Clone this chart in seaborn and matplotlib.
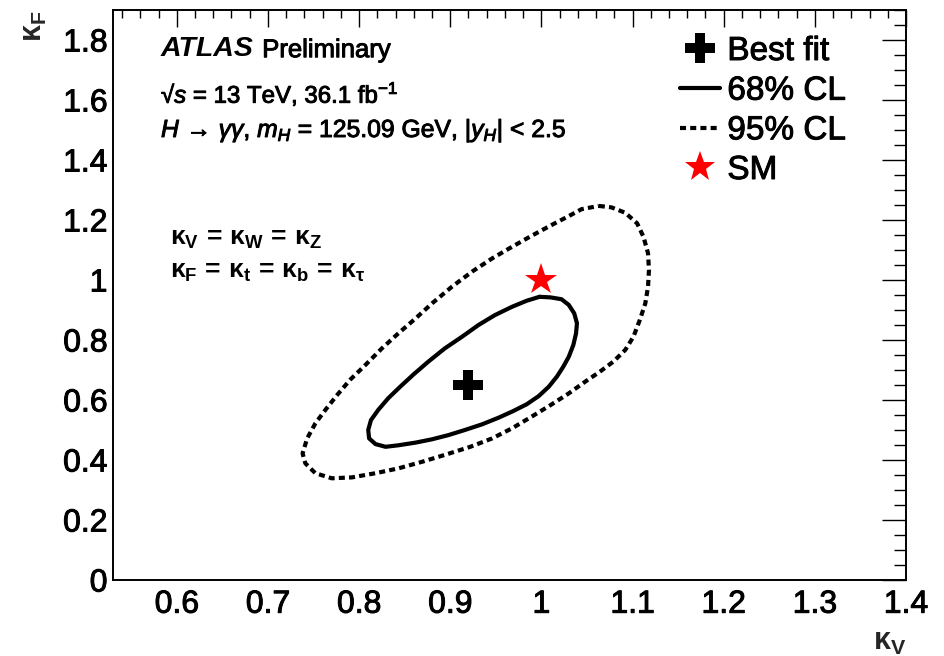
import matplotlib
matplotlib.use("Agg")
import matplotlib.pyplot as plt
import matplotlib.patheffects as pe
from matplotlib.lines import Line2D
from matplotlib.ticker import MultipleLocator
import pandas as pd
import seaborn as sns

# 68% CL contour in the (kappa_V, kappa_F) plane
kv_68 = [0.998, 1.010, 1.022, 1.030, 1.036, 1.039, 1.038, 1.035, 1.030, 1.024,
         1.017, 1.008, 0.997, 0.984, 0.969, 0.953, 0.935, 0.916, 0.898, 0.880,
         0.862, 0.843, 0.829, 0.818, 0.811, 0.810, 0.813, 0.821, 0.832, 0.845,
         0.860, 0.876, 0.894, 0.913, 0.931, 0.949, 0.968, 0.984, 0.998]
kf_68 = [0.944, 0.942, 0.936, 0.917, 0.889, 0.856, 0.822, 0.783, 0.744, 0.711,
         0.678, 0.644, 0.613, 0.586, 0.563, 0.541, 0.519, 0.500, 0.483, 0.469,
         0.458, 0.449, 0.444, 0.453, 0.472, 0.500, 0.533, 0.567, 0.606, 0.644,
         0.686, 0.728, 0.772, 0.811, 0.850, 0.883, 0.911, 0.931, 0.944]

# 95% CL contour
kv_95 = [1.063, 1.077, 1.092, 1.105, 1.112, 1.117, 1.118, 1.117, 1.114, 1.108,
         1.101, 1.092, 1.079, 1.064, 1.048, 1.030, 1.010, 0.989, 0.968, 0.946,
         0.922, 0.894, 0.869, 0.843, 0.818, 0.792, 0.770, 0.752, 0.741, 0.738,
         0.743, 0.752, 0.763, 0.776, 0.790, 0.807, 0.825, 0.843, 0.862, 0.880,
         0.902, 0.924, 0.946, 0.968, 0.989, 1.011, 1.030, 1.044, 1.063]
kf_95 = [1.247, 1.242, 1.224, 1.189, 1.144, 1.089, 1.033, 0.978, 0.922, 0.867,
         0.811, 0.767, 0.728, 0.694, 0.661, 0.622, 0.583, 0.544, 0.506, 0.472,
         0.444, 0.417, 0.394, 0.372, 0.356, 0.342, 0.339, 0.356, 0.389, 0.422,
         0.472, 0.522, 0.567, 0.617, 0.667, 0.717, 0.772, 0.822, 0.872, 0.922,
         0.978, 1.028, 1.072, 1.111, 1.147, 1.183, 1.213, 1.236, 1.247]

best_fit_kv, best_fit_kf = [0.92], [0.65]
sm_kv, sm_kf = [1.0], [1.0]

x_limits = (0.53, 1.4)
y_limits = (0.0, 1.9)
x_ticks = [0.6, 0.7, 0.8, 0.9, 1.0, 1.1, 1.2, 1.3, 1.4]
x_tick_labels = ["0.6", "0.7", "0.8", "0.9", "1", "1.1", "1.2", "1.3", "1.4"]
y_ticks = [0.0, 0.2, 0.4, 0.6, 0.8, 1.0, 1.2, 1.4, 1.6, 1.8]
y_tick_labels = ["0", "0.2", "0.4", "0.6", "0.8", "1", "1.2", "1.4", "1.6", "1.8"]
legend_labels = ["Best fit", "68% CL", "95% CL", "SM"]

sns.set_theme(style="white")
plt.rcParams.update({
    "font.family": ["Liberation Sans", "DejaVu Sans"],
    "mathtext.fontset": "custom",
    "mathtext.rm": "Liberation Sans",
    "mathtext.it": "Liberation Sans:italic",
    "mathtext.bf": "Liberation Sans:bold",
    "mathtext.sf": "Liberation Sans",
    "axes.edgecolor": "black",
    "axes.linewidth": 1.4,
    "text.color": "black",
    "xtick.color": "black",
    "ytick.color": "black",
})

# slightly heavier strokes for the text
heavy = [pe.withStroke(linewidth=0.7, foreground="black")]

fig = plt.figure(figsize=(9.44, 6.56), dpi=100)
ax = fig.add_axes([113 / 944, 1 - 580 / 656, 793 / 944, 570 / 656])

c68 = pd.DataFrame({"kv": kv_68, "kf": kf_68})
c95 = pd.DataFrame({"kv": kv_95, "kf": kf_95})

dotted = (0, (1.45, 1.0))
sns.lineplot(data=c95, x="kv", y="kf", sort=False, estimator=None, ax=ax,
             color="black", lw=3.0, linestyle=dotted, dash_capstyle="butt",
             dash_joinstyle="round")
sns.lineplot(data=c68, x="kv", y="kf", sort=False, estimator=None, ax=ax,
             color="black", lw=3.0, solid_joinstyle="round",
             solid_capstyle="round")

ax.plot(best_fit_kv, best_fit_kf, marker="P", ms=22, color="black",
        mec="black", mew=0, ls="none")
ax.plot(sm_kv, sm_kf, marker="*", ms=24, color="red", mec="red", mew=0,
        ls="none")

ax.set_xlim(*x_limits)
ax.set_ylim(*y_limits)
ax.set_xticks(x_ticks)
ax.set_xticklabels(x_tick_labels)
ax.set_yticks(y_ticks)
ax.set_yticklabels(y_tick_labels)
ax.xaxis.set_minor_locator(MultipleLocator(0.02))
ax.yaxis.set_minor_locator(MultipleLocator(0.05))
ax.tick_params(which="both", direction="in", top=True, right=True,
               width=1.0, labelsize=23)
ax.tick_params(axis="x", which="major", length=12.2, pad=7)
ax.tick_params(axis="x", which="minor", length=6.1)
ax.tick_params(axis="y", which="major", length=17.5, pad=4)
ax.tick_params(axis="y", which="minor", length=8.8)
for s in ax.spines.values():
    s.set_visible(True)
for lab in ax.get_xticklabels() + ax.get_yticklabels():
    lab.set_path_effects(heavy)

ax.set_xlabel(r"$\mathbf{\kappa_{V}}$", fontsize=22, ha="right", va="top")
ax.xaxis.set_label_coords(1.0, -0.082)
ax.set_ylabel(r"$\mathbf{\kappa_{F}}$", fontsize=22, ha="right", va="center")
ax.yaxis.set_label_coords(-0.0996, 1.0)

tr = ax.transAxes
t_atlas = ax.text(0.0605, 0.919, "ATLAS", transform=tr, fontsize=20.5,
                  fontweight="bold", fontstyle="italic", va="baseline")
ax.annotate("Preliminary", xy=(1, 0), xycoords=t_atlas, fontsize=18.5,
            xytext=(6, 0), textcoords="offset points",
            va="bottom", ha="left", path_effects=heavy)
ax.text(0.0605, 0.837, "√$s$ = 13 TeV, 36.1 fb$^{-1}$", transform=tr,
        fontsize=17.3, va="baseline", path_effects=heavy)
ax.text(0.0605, 0.777,
        r"$H\,\rightarrow\,\gamma\gamma$, $m_{H}$ = 125.09 GeV, $|y_{H}|$ < 2.5",
        transform=tr, fontsize=17.8, va="baseline", path_effects=heavy)
ax.text(0.072, 0.588,
        r"$\mathbf{\kappa_{V}\,=\,\kappa_{W}\,=\,\kappa_{Z}}$",
        transform=tr, fontsize=19, va="baseline")
ax.text(0.072, 0.530,
        r"$\mathbf{\kappa_{F}\,=\,\kappa_{t}\,=\,\kappa_{b}\,=\,\kappa_{\tau}}$",
        transform=tr, fontsize=19, va="baseline")

handles = [
    Line2D([], [], marker="P", ms=21, color="black", mew=0, ls="none"),
    Line2D([], [], color="black", lw=3.0),
    Line2D([], [], color="black", lw=3.0, linestyle=dotted,
           dash_capstyle="butt"),
    Line2D([], [], marker="*", ms=23, color="red", mew=0, ls="none"),
]
leg = ax.legend(handles, legend_labels, loc="upper left",
                bbox_to_anchor=((680 - 113) / 793, (580 - 36) / 570),
                frameon=False, fontsize=24, handlelength=1.2,
                handletextpad=0.22, labelspacing=0.26, borderpad=0,
                borderaxespad=0)
for t in leg.get_texts():
    t.set_path_effects(heavy)

fig.savefig("out.png", dpi=100)
